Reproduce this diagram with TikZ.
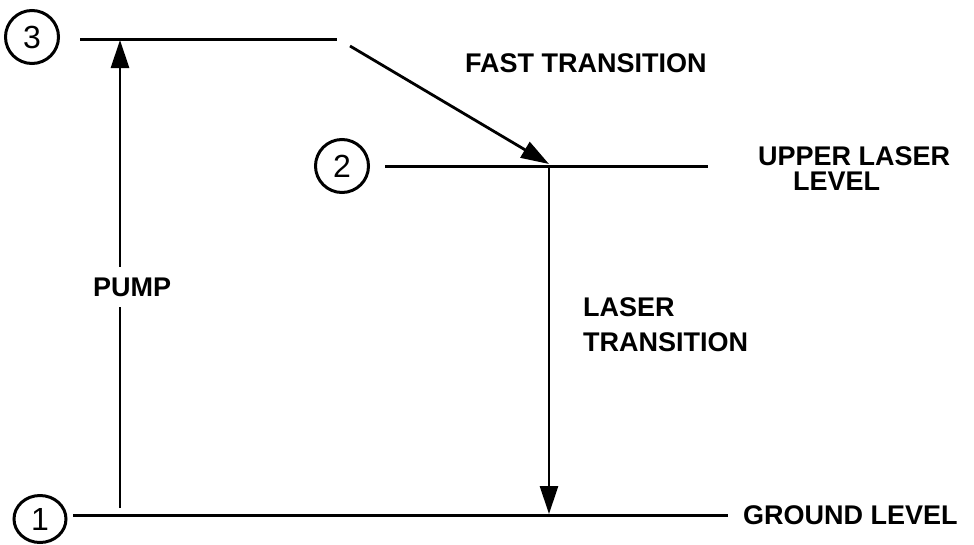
\documentclass[tikz,border=0pt]{standalone}
\usepackage{fontspec}
\setmainfont{Liberation Sans}
\usetikzlibrary{arrows.meta,shapes.geometric}
\begin{document}
\begin{tikzpicture}[x=1pt,y=-1pt,
  lvl/.style={line width=3pt},
  arr/.style={line width=2.8pt,-{Triangle[length=28pt,width=18pt]}},
  num/.style={draw,line width=3pt,circle,minimum size=53pt,inner sep=0pt,font=\fontsize{32}{32}\selectfont},
  lbl/.style={font=\fontsize{27}{25}\selectfont\bfseries,inner sep=0pt}]
\useasboundingbox (0,0) rectangle (974,544);
% state circles
\node[num] (c3) at (32,37) {3};
\node[num] (c2) at (342,166) {2};
\node[num,ellipse,minimum width=52pt,minimum height=47pt] (c1) at (40,519) {1};
% level end points
\coordinate (l3a) at (80,39);
\coordinate (l3b) at (337,39);
\coordinate (l2a) at (385,166);
\coordinate (l2b) at (708,166);
\coordinate (l1a) at (73,515);
\coordinate (l1b) at (728,515);
\draw[lvl] (l3a) -- (l3b);
\draw[lvl] (l2a) -- (l2b);
\draw[lvl] (l1a) -- (l1b);
% transitions
\coordinate (pb) at (120,508);
\coordinate (pt) at (120,40);
\coordinate (fs) at (350,46);
\coordinate (fe) at (549,164);
\coordinate (ls) at (549,166);
\coordinate (le) at (549,514);
\draw[arr] (pb) -- (pt);
\draw[arr] (fs) -- (fe);
\draw[arr] (ls) -- (le);
% labels
\node[lbl,anchor=west] (tfast) at (465,63) {FAST TRANSITION};
\node[lbl,anchor=west,align=left] (tupper) at (758,169) {UPPER LASER\\\hspace*{35pt}LEVEL};
\node[lbl,anchor=west,fill=white,inner xsep=1pt,inner ysep=11pt] (tpump) at (92,287) {PUMP};
\node[lbl,anchor=west,align=left] (tlaser) at (583,325) {LASER\\[10pt]TRANSITION};
\node[lbl,anchor=west] (tground) at (743,515) {GROUND LEVEL};
\end{tikzpicture}
\end{document}
